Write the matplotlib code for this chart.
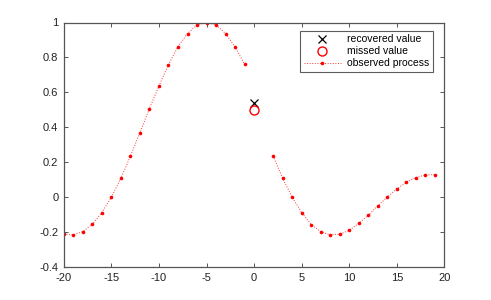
import numpy as np
import matplotlib
matplotlib.use('Agg')
import matplotlib.pyplot as plt

plt.rcParams['font.family'] = ['Liberation Sans', 'DejaVu Sans']
plt.rcParams['axes.unicode_minus'] = False

# observed process (NaN where the value is missing)
t = list(range(-20, 20))
observed = [-0.212, -0.216, -0.197, -0.155, -0.088, 0.0, 0.108, 0.234, 0.37, 0.507,
            0.637, 0.759, 0.862, 0.937, 0.986, 1.0, 0.986, 0.937, 0.86, 0.761,
            np.nan, np.nan, 0.236, 0.108, 0.0, -0.088, -0.157, -0.197, -0.216, -0.212,
            -0.19, -0.15, -0.104, -0.05, 0.0, 0.047, 0.085, 0.112, 0.127, 0.129]

t_missed = [0]
missed = [0.5]
recovered = [0.54]

fig = plt.figure(figsize=(4.91, 3.0), dpi=100)
ax = fig.add_axes([0.13, 0.11, 0.775, 0.815])

ax.plot(t_missed, recovered, 'x', color='black', markersize=6, mew=0.9, label='recovered value')
ax.plot(t_missed, missed, 'o', color='red', mfc='none', markersize=6.5, mew=1.0, label='missed value')
ax.plot(t, observed, ':', color='#ff3333', lw=0.7, marker='o', markersize=2.6, mew=0,
        mfc='red', label='observed process')

ax.set_xlim(-20, 20)
ax.set_ylim(-0.4, 1)
ax.set_xticks(range(-20, 21, 5))
ax.set_yticks([-0.4, -0.2, 0, 0.2, 0.4, 0.6, 0.8, 1])
ax.set_yticklabels(['-0.4', '-0.2', '0', '0.2', '0.4', '0.6', '0.8', '1'])

for s in ax.spines.values():
    s.set_color('#555555')
    s.set_linewidth(0.9)
ax.tick_params(direction='in', top=True, right=True, length=3, width=0.7,
               colors='#555555', labelcolor='#222222', labelsize=8, pad=4)

leg = ax.legend(loc='upper right', bbox_to_anchor=(0.9695, 0.9645), fontsize=7.5,
                frameon=True, fancybox=False, edgecolor='#333333', borderpad=0.3,
                labelspacing=0.2, handlelength=3.6, handletextpad=0.6, borderaxespad=0)
leg.get_frame().set_linewidth(0.8)

fig.savefig('out.png', dpi=100)
